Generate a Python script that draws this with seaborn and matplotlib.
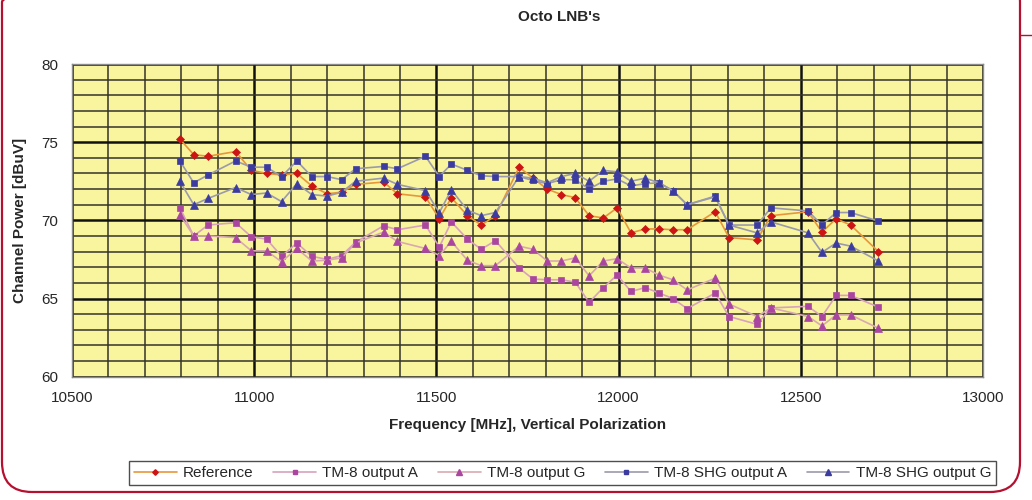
import matplotlib
matplotlib.use("Agg")
import matplotlib.pyplot as plt
import seaborn as sns
import pandas as pd
from matplotlib.patches import FancyBboxPatch
from matplotlib.lines import Line2D
from matplotlib.ticker import MultipleLocator

freq_mhz = [10796, 10834, 10873, 10949, 10992, 11034, 11075, 11117, 11158, 11200,
            11240, 11278, 11355, 11393, 11470, 11508, 11541, 11585, 11623, 11662,
            11727, 11765, 11804, 11843, 11881, 11919, 11958, 11996, 12034, 12073,
            12111, 12149, 12188, 12265, 12303, 12380, 12418, 12520, 12558, 12597,
            12637, 12713]

reference = [75.2, 74.2, 74.1, 74.4, 73.2, 73.0, 72.9, 73.0, 72.2, 71.7,
             71.8, 72.3, 72.45, 71.7, 71.5, 70.1, 71.45, 70.3, 69.7, 70.3,
             73.4, 72.7, 72.0, 71.65, 71.45, 70.3, 70.15, 70.8, 69.2, 69.45,
             69.45, 69.4, 69.4, 70.55, 68.9, 68.75, 70.3, 70.55, 69.25, 70.1,
             69.7, 68.0]

tm8_output_a = [70.8, 69.0, 69.7, 69.85, 68.95, 68.8, 67.7, 68.55, 67.7, 67.5,
                67.75, 68.6, 69.65, 69.4, 69.7, 68.3, 69.9, 68.8, 68.15, 68.7,
                66.95, 66.25, 66.2, 66.2, 66.05, 64.75, 65.7, 66.5, 65.45, 65.7,
                65.35, 65.0, 64.35, 65.35, 63.85, 63.35, 64.4, 64.5, 63.85, 65.2,
                65.2, 64.45]

tm8_output_g = [70.35, 69.0, 69.0, 68.9, 68.05, 68.05, 67.35, 68.2, 67.4, 67.45,
                67.6, 68.55, 69.25, 68.65, 68.2, 67.75, 68.65, 67.45, 67.1, 67.1,
                68.35, 68.15, 67.4, 67.4, 67.6, 66.45, 67.4, 67.55, 66.95, 66.95,
                66.5, 66.2, 65.55, 66.3, 64.65, 63.85, 64.4, 63.85, 63.25, 63.95,
                63.95, 63.1]

tm8_shg_output_a = [73.8, 72.4, 72.9, 73.8, 73.4, 73.4, 72.8, 73.8, 72.8, 72.8,
                    72.6, 73.3, 73.45, 73.3, 74.1, 72.8, 73.6, 73.2, 72.85, 72.8,
                    72.8, 72.55, 72.35, 72.6, 72.6, 72.0, 72.5, 72.65, 72.2, 72.35,
                    72.4, 71.9, 71.0, 71.55, 69.7, 69.7, 70.8, 70.6, 69.7, 70.5,
                    70.5, 69.95]

tm8_shg_output_g = [72.5, 71.0, 71.4, 72.1, 71.65, 71.75, 71.2, 72.35, 71.65, 71.55,
                    71.8, 72.5, 72.7, 72.3, 71.9, 70.5, 71.95, 70.65, 70.3, 70.5,
                    72.8, 72.7, 72.4, 72.8, 73.0, 72.5, 73.2, 73.1, 72.5, 72.7,
                    72.4, 71.9, 71.0, 71.5, 69.7, 69.2, 69.9, 69.2, 67.95, 68.55,
                    68.35, 67.4]

series_names = ["Reference", "TM-8 output A", "TM-8 output G",
                "TM-8 SHG output A", "TM-8 SHG output G"]
series_values = [reference, tm8_output_a, tm8_output_g,
                 tm8_shg_output_a, tm8_shg_output_g]

x_ticks = [10500, 11000, 11500, 12000, 12500, 13000]
y_ticks = [60, 65, 70, 75, 80]

sns.set_style("white")
plt.rcParams['font.family'] = ['Liberation Sans', 'DejaVu Sans']

fig = plt.figure(figsize=(10.32, 5.0), dpi=100)
ax = fig.add_axes([0.0698, 0.2466, 0.8827, 0.6254])
ax.set_facecolor('#f9f49e')

styles = [
    dict(line='#e8963a', mk='#cc1414', marker='D', ms=4.0),
    dict(line='#d7a2bc', mk='#aa46a0', marker='s', ms=5.0),
    dict(line='#d8aab0', mk='#aa46a0', marker='^', ms=5.5),
    dict(line='#9a9aac', mk='#3c3ca0', marker='s', ms=5.0),
    dict(line='#9a9aac', mk='#3c3ca0', marker='^', ms=5.5),
]

handles = []
for name, vals, st in zip(series_names, series_values, styles):
    df = pd.DataFrame({"freq": freq_mhz, "power": vals})
    sns.lineplot(data=df, x="freq", y="power", ax=ax, color=st['line'],
                 marker=st['marker'], markersize=st['ms'],
                 markerfacecolor=st['mk'], markeredgecolor=st['mk'],
                 markeredgewidth=0.5, linewidth=1.2, legend=False, zorder=3)
    handles.append(Line2D([0], [0], color=st['line'], lw=1.2, marker=st['marker'],
                          markersize=st['ms'] * 0.7, markerfacecolor=st['mk'],
                          markeredgecolor=st['mk'], label=name))

ax.set_xlim(10500, 13000)
ax.set_ylim(60, 80)
ax.set_xticks(x_ticks)
ax.set_yticks(y_ticks)
ax.xaxis.set_minor_locator(MultipleLocator(100))
ax.yaxis.set_minor_locator(MultipleLocator(1))
ax.grid(which='major', color='#111111', lw=1.8)
ax.grid(which='minor', color='#33332a', lw=1.1)
ax.set_axisbelow(True)
ax.tick_params(axis='both', which='major', labelsize=11, length=4, width=1,
               color='#888888', direction='out', pad=6)
ax.tick_params(axis='both', which='minor', length=0)
for s in ax.spines.values():
    s.set_color('#8a8a8a')
    s.set_linewidth(1.0)

ax.set_xlabel("Frequency [MHz], Vertical Polarization", fontsize=11,
              fontweight='bold', labelpad=10)
ax.set_ylabel("Channel Power [dBuV]", fontsize=11, fontweight='bold', labelpad=10)
fig.text(0.5416, 0.966, "Octo LNB's", ha='center', va='center', fontsize=11,
         fontweight='bold')

leg = fig.legend(handles=handles, loc='center', bbox_to_anchor=(0.545, 0.054),
                 ncol=5, frameon=True, fancybox=False, fontsize=11,
                 handlelength=2.8, handletextpad=0.4, columnspacing=1.3,
                 borderpad=0.3, edgecolor='#222222')
leg.get_frame().set_linewidth(1.0)

frame = FancyBboxPatch((0.02, 0.08), 10.18, 5.2,
                       boxstyle="round,pad=0,rounding_size=0.3",
                       transform=fig.dpi_scale_trans, fill=False,
                       edgecolor='#b51030', lw=1.6, zorder=0)
fig.patches.append(frame)
fig.lines.append(Line2D([1020 / 1032, 1.0], [0.93, 0.93], transform=fig.transFigure,
                        color='#b51030', lw=1.0))

fig.savefig("out.png", dpi=100)
